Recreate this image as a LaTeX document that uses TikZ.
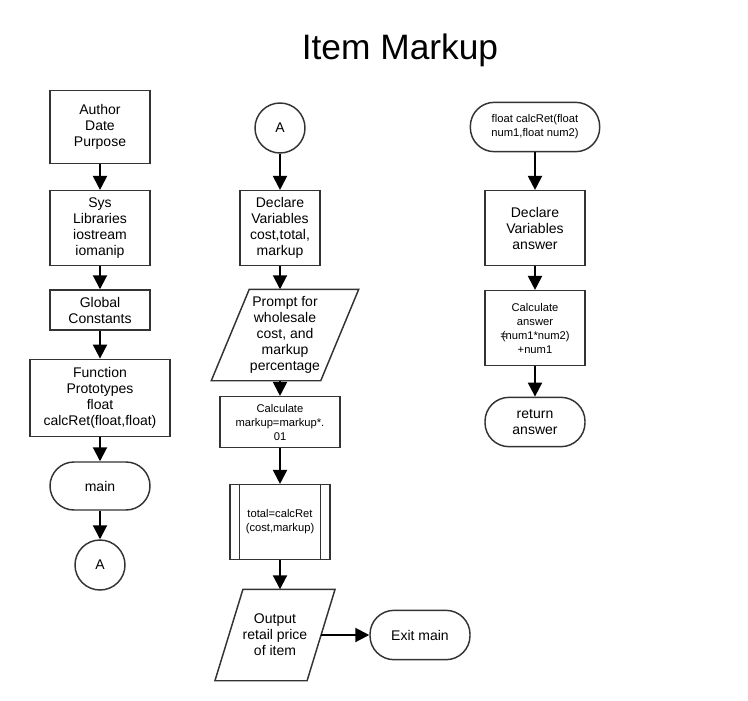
\documentclass[tikz,border=0pt]{standalone}
\usepackage{fontspec}
\setmainfont{Liberation Sans}
\usetikzlibrary{positioning,arrows.meta}
\definecolor{linjegraa}{HTML}{333333}

\begin{document}
\begin{tikzpicture}[x=0.75pt, y=-0.75pt, every node/.style={draw=linjegraa, line width=1.1pt, align=center, font=\fontsize{10.5}{12}\selectfont, inner sep=2pt},
    boks/.style={rectangle},
    terminal/.style={rectangle, rounded corners=18pt},
    sirkel/.style={circle, minimum size=37.5pt},
    io/.style={rectangle, draw=none, minimum height=67.5pt},
    ramme/.style={draw=linjegraa, line width=1.1pt},
    pil/.style={-{Triangle[length=10.5pt,width=10.5pt]}, line width=1.5pt}]
    \useasboundingbox (0,0) rectangle (748,700);
    \node[draw=none, font=\fontsize{26.5}{30}\selectfont] (title) at (400,50) {Item Markup};
    % venstre kolonne
    \node[boks, minimum width=75pt, minimum height=55pt] (author) at (100,127) {Author\\Date\\Purpose};
    \node[boks, minimum width=75pt, minimum height=56pt] (syslib) at (100,228) {Sys\\Libraries\\iostream\\iomanip};
    \node[boks, minimum width=75pt, minimum height=30pt] (global) at (100,310) {Global\\Constants};
    \node[boks, minimum width=105pt, minimum height=58pt] (proto) at (100,398) {Function\\Prototypes\\float\\calcRet(float,float)};
    \node[terminal, minimum width=75pt, minimum height=36pt] (main) at (100,486) {main};
    \node[sirkel] (conA) at (100,565) {A};
    % midtre kolonne
    \node[sirkel] (conB) at (280,128) {A};
    \node[boks, minimum width=60pt, minimum height=56pt] (declare) at (280,228) {Declare\\Variables\\cost,total,\\markup};
    \node[io, minimum width=81pt] (prompt) at (285,335) {Prompt for\\wholesale\\cost, and\\markup\\percentage};
    \draw[ramme] ([xshift=14.25pt]prompt.north west) -- ([xshift=14.25pt]prompt.north east) -- ([xshift=-14.25pt]prompt.south east) -- ([xshift=-14.25pt]prompt.south west) -- cycle;
    \node[boks, minimum width=90pt, minimum height=38pt, font=\fontsize{8.4}{10.5}\selectfont] (calc) at (280,422) {Calculate\\markup=markup*.\\01};
    \node[boks, minimum width=75pt, minimum height=56pt, font=\fontsize{8.4}{10.5}\selectfont] (total) at (280,522) {total=calcRet\\(cost,markup)};
    \draw[ramme] ([xshift=7.5pt]total.north west) -- ([xshift=7.5pt]total.south west);
    \draw[ramme] ([xshift=-7.5pt]total.north east) -- ([xshift=-7.5pt]total.south east);
    \node[io, minimum width=68pt] (output) at (275,635) {Output\\retail price\\of item};
    \draw[ramme] ([xshift=10.5pt]output.north west) -- ([xshift=10.5pt]output.north east) -- ([xshift=-10.5pt]output.south east) -- ([xshift=-10.5pt]output.south west) -- cycle;
    \node[terminal, minimum width=75pt, minimum height=37pt] (exit) at (420,635) {Exit main};
    % hoyre kolonne
    \node[terminal, minimum width=97pt, minimum height=37pt, font=\fontsize{8.4}{10.5}\selectfont] (calcret) at (535,127) {float calcRet(float\\num1,float num2)};
    \node[boks, minimum width=75pt, minimum height=56pt] (declans) at (535,228) {Declare\\Variables\\answer};
    \node[boks, minimum width=75pt, minimum height=56pt, font=\fontsize{8.4}{10.5}\selectfont] (calcans) at (535,328) {Calculate\\answer\\=\kern-0.45em(num1*num2)\\+num1};
    \node[terminal, minimum width=75pt, minimum height=37pt] (return) at (535,422) {return\\answer};
    % piler
    \draw[pil] (author) -- (syslib);
    \draw[pil] (syslib) -- (global);
    \draw[pil] (global) -- (proto);
    \draw[pil] (proto) -- (main);
    \draw[pil] (main) -- (conA);
    \draw[pil] (conB) -- (declare);
    \draw[pil] (declare) -- (declare|-prompt.north);
    \draw[pil] (calc|-prompt.south) -- (calc);
    \draw[pil] (calc) -- (total);
    \draw[pil] (total) -- (total|-output.north);
    \draw[pil] (output) -- (exit);
    \draw[pil] (calcret) -- (declans);
    \draw[pil] (declans) -- (calcans);
    \draw[pil] (calcans) -- (return);
\end{tikzpicture}
\end{document}
